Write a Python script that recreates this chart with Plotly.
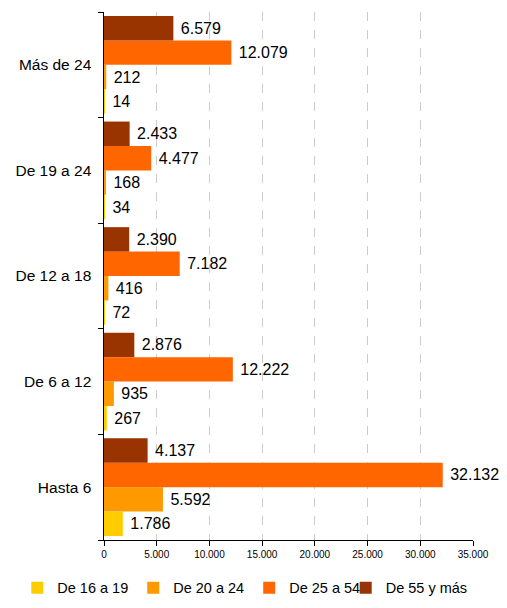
import plotly.graph_objects as go

categories = ["Hasta 6", "De 6 a 12", "De 12 a 18", "De 19 a 24", "Más de 24"]
series_names = ["De 16 a 19", "De 20 a 24", "De 25 a 54", "De 55 y más"]
de_16_19 = [1786, 267, 72, 34, 14]
de_20_24 = [5592, 935, 416, 168, 212]
de_25_54 = [32132, 12222, 7182, 4477, 12079]
de_55_mas = [4137, 2876, 2390, 2433, 6579]
colors = ["#FFCC00", "#FF9900", "#FF6600", "#993300"]

# last series gets its own legend box so the row fits the narrow page
legend_ids = ["legend", "legend", "legend", "legend2"]

fig = go.Figure()
for name, vals, col, lid in zip(series_names, [de_16_19, de_20_24, de_25_54, de_55_mas], colors, legend_ids):
    fig.add_trace(go.Bar(name=name, y=categories, x=vals, orientation="h",
                         marker=dict(color=col, line=dict(width=0)),
                         text=vals, texttemplate=" %{x:,}", textposition="outside",
                         textfont=dict(size=16, color="black"), cliponaxis=False,
                         legend=lid))

fig.update_layout(
    barmode="group", bargap=0.075, bargroupgap=0,
    width=499, height=600, autosize=False,
    separators=",.",
    plot_bgcolor="white", paper_bgcolor="white",
    font=dict(family="Liberation Sans, Arial", color="black", size=13),
    margin=dict(l=96, r=34, t=4, b=66),
    legend=dict(orientation="h", x=-0.235, xanchor="left", y=-0.121, yanchor="bottom",
                font=dict(size=14.5), traceorder="normal", bgcolor="rgba(0,0,0,0)"),
    legend2=dict(orientation="h", x=0.655, xanchor="left", y=-0.121, yanchor="bottom",
                 font=dict(size=14.5), bgcolor="rgba(0,0,0,0)"),
)
fig.update_xaxes(range=[0, 35000], dtick=5000, tickformat=",", showgrid=True,
                 gridcolor="#CCCCCC", griddash="dash", zeroline=False,
                 showline=True, linecolor="black", ticks="outside", ticklen=5,
                 tickcolor="black", tickfont=dict(size=10), automargin=False)
fig.update_yaxes(showline=True, linecolor="black", ticks="outside", ticklen=5,
                 tickcolor="black", tickson="boundaries", showgrid=False,
                 tickfont=dict(size=15.5), ticksuffix="  ", automargin=False)

fig.write_html("out.html")
